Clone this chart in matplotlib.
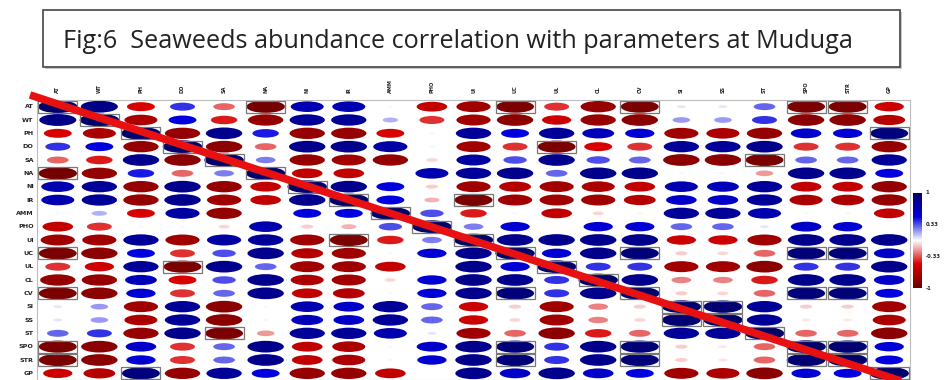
import numpy as np
import matplotlib
matplotlib.use("Agg")
import matplotlib.pyplot as plt
from matplotlib.patches import Ellipse, Rectangle
from matplotlib.colors import LinearSegmentedColormap

labels = ["AT", "WT", "PH", "DO", "SA", "NA", "NI", "IR", "AMM", "PHO", "UI",
          "UC", "UL", "CL", "CV", "SI", "SS", "ST", "SPO", "STR", "GP"]

# lower triangle of the correlation matrix (row by row)
lower = [
    [],
    [0.88],
    [-0.5, -0.7],
    [0.4, 0.5, -0.8],
    [-0.3, -0.45, 0.85, -0.85],
    [-0.95, -0.8, 0.45, -0.3, 0.25],
    [0.7, 0.8, -0.8, 0.85, -0.8, -0.6],
    [0.7, 0.8, -0.8, 0.85, -0.75, -0.6, 0.85],
    [-0.02, 0.15, -0.5, 0.75, -0.8, 0.0, 0.5, 0.5],
    [-0.6, -0.4, 0.02, 0.02, -0.08, 0.7, -0.1, -0.15, 0.35],
    [-0.75, -0.75, 0.8, -0.75, 0.75, 0.8, -0.75, -0.92, -0.45, 0.25],
    [-0.92, -0.85, 0.5, -0.4, 0.35, 0.85, -0.65, -0.75, 0.02, 0.55, 0.85],
    [-0.4, -0.55, 0.8, -0.92, 0.85, 0.3, -0.75, -0.75, -0.6, 0.0, 0.85, 0.55],
    [-0.8, -0.8, 0.65, -0.5, 0.35, 0.85, -0.7, -0.75, -0.08, 0.55, 0.85, 0.85, 0.4],
    [-0.92, -0.85, 0.55, -0.4, 0.3, 0.85, -0.6, -0.65, 0.02, 0.55, 0.85, 0.93, 0.4, 0.85],
    [0.05, 0.2, -0.75, 0.8, -0.85, 0.02, 0.7, 0.6, 0.8, 0.3, -0.55, -0.1, -0.75, -0.25, -0.1],
    [0.05, 0.2, -0.7, 0.8, -0.85, 0.02, 0.65, 0.6, 0.8, 0.3, -0.55, -0.08, -0.75, -0.25, -0.08, 0.96],
    [0.3, 0.4, -0.8, 0.85, -0.92, -0.2, 0.8, 0.8, 0.7, 0.05, -0.75, -0.3, -0.85, -0.45, -0.3, 0.8, 0.8],
    [-0.92, -0.85, 0.6, -0.4, 0.3, 0.85, -0.6, -0.7, 0.02, 0.6, 0.85, 0.93, 0.4, 0.85, 0.93, -0.1, -0.05, -0.3],
    [-0.92, -0.85, 0.55, -0.4, 0.3, 0.85, -0.6, -0.7, 0.02, 0.55, 0.85, 0.93, 0.4, 0.85, 0.93, -0.1, -0.05, -0.3, 0.96],
    [-0.55, -0.65, 0.92, -0.8, 0.8, 0.5, -0.8, -0.8, -0.6, 0.0, 0.85, 0.6, 0.85, 0.6, 0.5, -0.75, -0.7, -0.85, 0.55, 0.5],
]
cbar_ticks = [1, 0.33, -0.33, -1]
title = "Fig:6  Seaweeds abundance correlation with parameters at Muduga"

n = len(labels)
R = np.eye(n)
for i, row in enumerate(lower):
    for j, v in enumerate(row):
        R[i, j] = v
        R[j, i] = v

cmap = LinearSegmentedColormap.from_list(
    "rb", ["#6a0000", "#d80000", "#ffffff", "#0000e0", "#00006a"])

W, H = 945, 380
fig = plt.figure(figsize=(W / 100, H / 100), dpi=100)

# title box (with a light shadow)
fig.patches.append(Rectangle((45 / W, 1 - 69 / H), 857 / W, 57 / H,
                             transform=fig.transFigure, facecolor="#c8c8c8",
                             edgecolor="none", zorder=0))
fig.patches.append(Rectangle((43 / W, 1 - 67 / H), 857 / W, 57 / H,
                             transform=fig.transFigure, facecolor="white",
                             edgecolor="#444444", lw=1.2, zorder=1))
fig.text(63 / W, 1 - 42 / H, title, fontsize=18.2, family="Open Sans",
         va="center", ha="left", color="#222222", zorder=2)

ax = fig.add_axes([37 / W, 0, 873 / W, 280 / H])
ax.set_xlim(0, n)
ax.set_ylim(n, 0)
ax.set_xticks([])
ax.set_yticks([])
for s in ax.spines.values():
    s.set_color("#bbbbbb")
    s.set_linewidth(0.8)

for i in range(n):
    for j in range(n):
        r = R[i, j]
        sz = 0.95 * np.sqrt(abs(r))
        ax.add_patch(Ellipse((j + 0.5, i + 0.5), sz, sz,
                             facecolor=cmap((r + 1) / 2), edgecolor="none"))
        if abs(r) >= 0.9:
            ax.add_patch(Rectangle((j + 0.03, i + 0.05), 0.94, 0.9,
                                   facecolor="none", edgecolor="#777777", lw=0.9))

for k, lab in enumerate(labels):
    ax.text(-0.08, k + 0.5, lab, ha="right", va="center", fontsize=4.6,
            fontweight="bold", color="#222222", clip_on=False)
    ax.text(k + 0.5, -0.55, lab, ha="center", va="bottom", rotation=90,
            fontsize=3.6, fontweight="bold", color="#222222", clip_on=False)

# red diagonal line drawn over the plot
ax.plot([-0.008, 0.994], [1.018, -0.008], transform=ax.transAxes,
        color="#e81010", lw=5.5, solid_capstyle="butt", clip_on=False, zorder=10)

# colour bar
cax = fig.add_axes([913 / W, 1 - 288 / H, 8 / W, 95 / H])
grad = np.linspace(1, -1, 200).reshape(-1, 1)
cax.imshow(grad, aspect="auto", cmap=cmap, vmin=-1, vmax=1,
           extent=[0, 1, -1, 1])
cax.set_xticks([])
cax.set_yticks([])
for s in cax.spines.values():
    s.set_visible(False)
for t in cbar_ticks:
    cax.text(1.6, t, str(t), fontsize=3.8, fontweight="bold", va="center",
             ha="left", color="#222222", clip_on=False)

fig.savefig("out.png", dpi=100)
